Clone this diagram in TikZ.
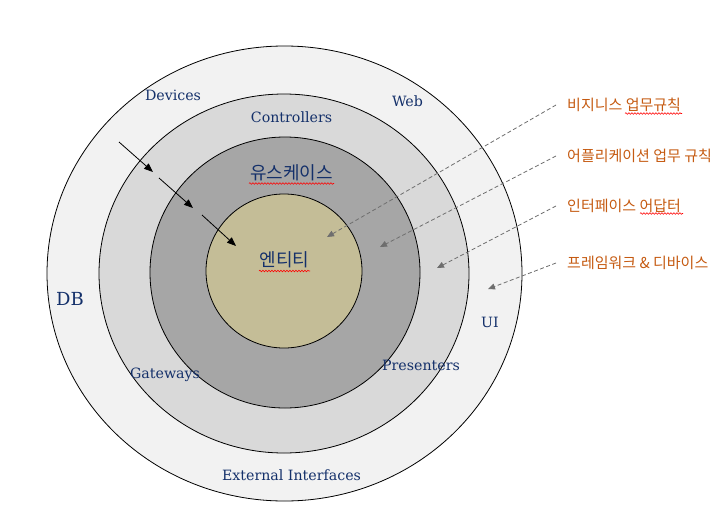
\documentclass[tikz,border=0pt]{standalone}
\usepackage{fontspec}
\setmainfont{DejaVu Serif}
\newfontfamily\krfont{Noto Sans CJK KR}
\usetikzlibrary{shapes.geometric,arrows.meta,decorations.pathmorphing}
\definecolor{ringa}{HTML}{F2F2F2}
\definecolor{ringb}{HTML}{D9D9D9}
\definecolor{ringc}{HTML}{A6A6A6}
\definecolor{core}{HTML}{C4BD97}
\definecolor{navy}{HTML}{14306A}
\definecolor{rust}{HTML}{C55A11}
\definecolor{hintgray}{HTML}{6E6E6E}

\begin{document}
\begin{tikzpicture}[x=1pt, y=-1pt]
\tikzset{ring/.style={ellipse,draw,line width=0.8pt,inner sep=0},
layerlabel/.style={font=\fontsize{14.2}{16}\selectfont,text=navy},
krlabel/.style={font=\krfont\fontsize{18}{20}\selectfont,text=navy},
notelabel/.style={font=\krfont\fontsize{15}{17}\selectfont,text=rust,anchor=west,inner sep=0},
flow/.style={-{Triangle[length=9pt,width=7pt]},line width=0.8pt},
pointer/.style={-{Triangle[length=7pt,width=6pt]},hintgray,line width=0.8pt,dash pattern=on 4pt off 2.5pt},
spellmark/.style={red,line width=0.6pt,decorate,decoration={snake,amplitude=0.8pt,segment length=3pt}}}

\useasboundingbox (0,0) rectangle (726,528);

%% Rings
\node (outer) [ring,fill=ringa,minimum width=475,minimum height=455] at (284.5,273.5) {};
\node (adapters) [ring,fill=ringb,minimum width=370,minimum height=359] at (284,273.5) {};
\node (usecases) [ring,fill=ringc,minimum width=270,minimum height=271] at (285,272.5) {};
\node (entities) [ring,fill=core,minimum width=156,minimum height=154] at (284,271) {};

%% Layer labels
\foreach \u/\pos/\lab in {devices/{173,95}/Devices, web/{407.5,101}/Web,
  controllers/{291.5,117}/Controllers, ui/{490,322}/UI,
  gateways/{165,375}/Gateways, presenters/{421,365}/Presenters,
  external/{291.5,475}/External Interfaces}
  \node (\u) [layerlabel] at (\pos) {\lab};
\node (db) [layerlabel,font=\fontsize{18}{20}\selectfont] at (70,298.5) {DB};

\node (ucname) [krlabel] at (291.5,173) {유스케이스};
\node (entname) [krlabel] at (284.5,259.5) {엔티티};
\draw [spellmark] (249,183.5) -- (334,183.5);
\draw [spellmark] (259,271) -- (310,271);

%% Notes
\node (note1) [notelabel] at (567,105) {비지니스 업무규칙};
\node (note2) [notelabel] at (567,156) {어플리케이션 업무 규칙};
\node (note3) [notelabel] at (567,206) {인터페이스 어답터};
\node (note4) [notelabel] at (567,263) {프레임워크 \& 디바이스};
\draw [spellmark] (625,113.5) -- (682,113.5);
\draw [spellmark] (640,213.5) -- (683,213.5);

\coordinate (tip1) at (327,237);
\coordinate (tip2) at (380,247);
\coordinate (tip3) at (437,268);
\coordinate (tip4) at (488,289);

%% Edges
\foreach \n in {1,...,4}
  \draw [pointer] ([xshift=-11pt]note\n.west) -- (tip\n);

\coordinate (a0) at (119,142); \coordinate (a1) at (153,172);
\coordinate (b0) at (159,178); \coordinate (b1) at (193,208);
\coordinate (c0) at (202,215); \coordinate (c1) at (236,246);
\foreach \s in {a,b,c}
  \draw [flow] (\s0) -- (\s1);

\end{tikzpicture}
\end{document}
